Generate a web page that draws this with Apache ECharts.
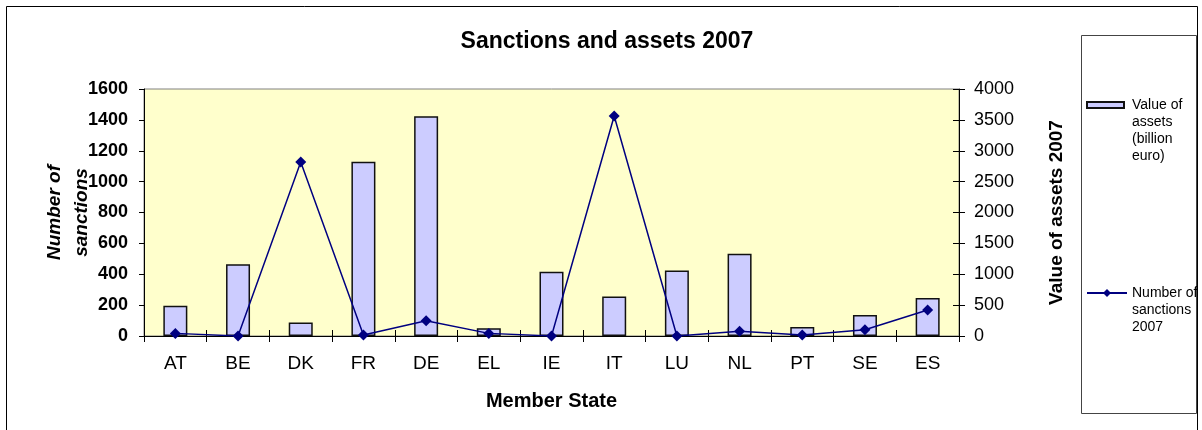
<!DOCTYPE html>
<html>
<head>
<meta charset="utf-8">
<script src="https://cdn.jsdelivr.net/npm/echarts@6/dist/echarts.min.js"></script>
<style>
html,body{margin:0;padding:0;background:#fff;}
#chart{width:1202px;height:430px;}
</style>
</head>
<body>
<div id="chart"></div>
<script>
const categories = ['AT','BE','DK','FR','DE','EL','IE','IT','LU','NL','PT','SE','ES'];
const assetValues = [490,1160,220,2820,3560,125,1040,640,1060,1330,145,340,615];
const sanctionCounts = [17,0,1127,6,99,17,0,1425,0,30,6,41,168];
const seriesNames = ['Value of assets (billion euro)','Number of sanctions 2007'];
const legendLabels = [['Value of','assets','(billion','euro)'],['Number of','sanctions','2007']];
const leftAxis = {min:0, max:1600, interval:200};
const rightAxis = {min:0, max:4000, interval:500};

const FONT = '"Liberation Sans", Arial, sans-serif';
const chart = echarts.init(document.getElementById('chart'), null, {renderer:'canvas'});

// first text line aligned with the legend icon: pad with empty lines before it
function wrapLegend(i){
  const lines = legendLabels[i];
  const pad = new Array(lines.length - 1).fill('');
  return pad.concat(lines).join('\n');
}

function legendFor(i, iconCenter){
  const L = 17;
  const n = legendLabels[i].length;
  return {
    data:[seriesNames[i]],
    orient:'vertical',
    left:1086, top: iconCenter - (2*n-1)*L/2,
    padding:0,
    itemWidth:40, itemHeight:10,
    selectedMode:false,
    formatter: nm => wrapLegend(seriesNames.indexOf(nm)),
    textStyle:{fontFamily:FONT, fontSize:14, color:'#000', lineHeight:L}
  };
}

const plain = v => String(v);

const option = {
  animation:false,
  backgroundColor:'#ffffff',
  title:{
    text:'Sanctions and assets 2007',
    left:607, top:30, textAlign:'center', padding:0,
    textStyle:{fontFamily:FONT, fontSize:23, fontWeight:'bold', color:'#000'}
  },
  legend:[
    Object.assign(legendFor(0, 105), {data:[{name:seriesNames[0], icon:'path://M0,0 M40,10 M0,2 L37,2 L37,8 L0,8 Z'}]}),
    legendFor(1, 293)
  ],
  graphic:[
    {type:'rect', shape:{x:6.5, y:6.5, width:1191, height:500}, style:{fill:'none', stroke:'#000', lineWidth:1}, z:-1},
    {type:'rect', shape:{x:1081.5, y:35.5, width:115, height:378}, style:{fill:'none', stroke:'#444', lineWidth:1}, z:-1}
  ],
  grid:{
    left:144, right:243, top:89, bottom:94,
    show:true, backgroundColor:'#FFFFCC', borderColor:'#808080', borderWidth:1
  },
  xAxis:[
    {
      type:'category', data:categories, position:'bottom',
      axisLine:{lineStyle:{color:'#000', width:1}},
      axisTick:{show:true, inside:false, length:6, lineStyle:{color:'#000'}},
      axisLabel:{fontFamily:FONT, fontSize:19, color:'#000', margin:18},
      name:'Member State', nameLocation:'middle', nameGap:55, nameMoveOverlap:false,
      nameTextStyle:{fontFamily:FONT, fontSize:20, fontWeight:'bold', color:'#000'}
    },
    {
      type:'category', data:categories, position:'bottom',
      axisLine:{show:false},
      axisTick:{show:true, inside:true, length:6, lineStyle:{color:'#000'}},
      axisLabel:{show:false}
    }
  ],
  yAxis:[
    {
      type:'value', position:'left', min:leftAxis.min, max:leftAxis.max, interval:leftAxis.interval,
      axisLine:{show:true, lineStyle:{color:'#000'}},
      axisTick:{show:true, length:5, lineStyle:{color:'#000'}},
      splitLine:{show:false},
      axisLabel:{fontFamily:FONT, fontSize:18, fontWeight:'bold', color:'#000', margin:16, formatter:plain},
      name:'Number of\nsanctions', nameLocation:'middle', nameGap:49, nameMoveOverlap:false,
      nameTextStyle:{fontFamily:FONT, fontSize:19, fontWeight:'bold', fontStyle:'italic', color:'#000', lineHeight:27}
    },
    {
      type:'value', position:'right', min:rightAxis.min, max:rightAxis.max, interval:rightAxis.interval,
      axisLine:{show:true, lineStyle:{color:'#000'}},
      axisTick:{show:true, length:6, lineStyle:{color:'#000'}},
      splitLine:{show:false},
      axisLabel:{fontFamily:FONT, fontSize:18, color:'#000', margin:15, formatter:plain},
      name:'Value of assets 2007', nameLocation:'middle', nameGap:88, nameMoveOverlap:false,
      nameTextStyle:{fontFamily:FONT, fontSize:19, fontWeight:'bold', color:'#000'}
    },
    {
      type:'value', position:'right', min:rightAxis.min, max:rightAxis.max, interval:rightAxis.interval,
      axisLine:{show:false},
      axisTick:{show:true, inside:true, length:6, lineStyle:{color:'#000'}},
      splitLine:{show:false},
      axisLabel:{show:false}
    }
  ],
  series:[
    {
      name:seriesNames[0], type:'bar', xAxisIndex:0, yAxisIndex:1,
      data:assetValues, barWidth:24,
      itemStyle:{color:'#CCCCFF', borderColor:'#111', borderWidth:1.5},
      z:2
    },
    {
      name:seriesNames[1], type:'line', xAxisIndex:0, yAxisIndex:0,
      data:sanctionCounts,
      symbol:'diamond', symbolSize:11,
      lineStyle:{color:'#000080', width:1.5},
      itemStyle:{color:'#000080'},
      z:3
    }
  ]
};
chart.setOption(option);
</script>
</body>
</html>
